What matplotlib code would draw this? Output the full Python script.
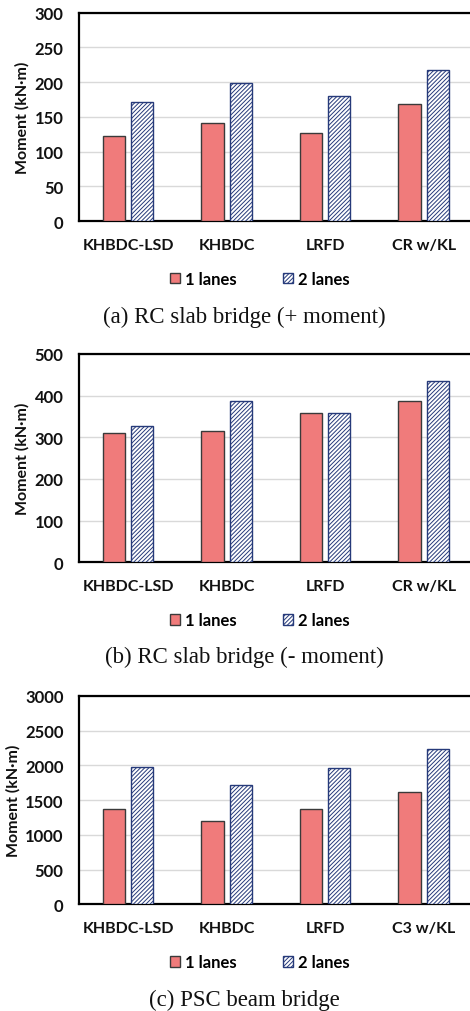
import numpy as np
import matplotlib
matplotlib.use('Agg')
import matplotlib.pyplot as plt

# moment values per design code, 1 lane vs 2 lanes loaded
codes_ab = ['KHBDC-LSD', 'KHBDC', 'LRFD', 'CR w/KL']
codes_c = ['KHBDC-LSD', 'KHBDC', 'LRFD', 'C3 w/KL']

slab_pos_1 = [123, 141, 127, 169]
slab_pos_2 = [171, 199, 180, 217]

slab_neg_1 = [309, 316, 357, 386]
slab_neg_2 = [326, 388, 357, 434]

psc_1 = [1370, 1198, 1370, 1615]
psc_2 = [1975, 1711, 1960, 2238]

series_names = ['1 lanes', '2 lanes']
captions = ['(a) RC slab bridge (+ moment)', '(b) RC slab bridge (- moment)', '(c) PSC beam bridge']
yticks = [np.arange(0, 301, 50), np.arange(0, 501, 100), np.arange(0, 3001, 500)]

plt.rcParams['font.family'] = ['Lato', 'DejaVu Sans']
plt.rcParams['hatch.linewidth'] = 0.7

red = '#F07B7B'
navy = '#263A7A'

fig = plt.figure(figsize = (4.7, 10.12), dpi = 100)

# (categories, 1-lane, 2-lane, axes bottom, ylabel x offset)
panels = [
    (codes_ab, slab_pos_1, slab_pos_2, 0.7806, -0.125),
    (codes_ab, slab_neg_1, slab_neg_2, 0.4434, -0.125),
    (codes_c, psc_1, psc_2, 0.1054, -0.148),
]

for k, (cats, v1, v2, bottom, lab_x) in enumerate(panels):

    ax = fig.add_axes([0.168, bottom, 0.838, 0.206])
    x = np.arange(len(cats))
    w = 0.225

    ax.bar(x - 0.143, v1, w, color = red, edgecolor = '#3a3a3a', linewidth = 1.0, label = series_names[0], zorder = 3)
    ax.bar(x + 0.143, v2, w, color = 'white', edgecolor = navy, hatch = '////////', linewidth = 1.0, label = series_names[1], zorder = 3)

    ax.set_xlim(-0.5, len(cats) - 0.5)
    ax.set_ylim(yticks[k][0], yticks[k][-1])
    ax.set_yticks(yticks[k])
    ax.set_xticks(x)
    ax.set_xticklabels(cats)

    ax.grid(axis = 'y', color = '#d9d9d9', linewidth = 1.0, zorder = 0)
    ax.set_axisbelow(True)

    for s in ['left', 'bottom', 'top']:
        ax.spines[s].set_linewidth(1.6)
        ax.spines[s].set_color('black')
    ax.spines['right'].set_visible(False)

    ax.tick_params(axis = 'x', length = 0, pad = 12, labelsize = 11.5)
    ax.tick_params(axis = 'y', length = 0, pad = 11, labelsize = 12)
    for lab in ax.get_xticklabels() + ax.get_yticklabels():
        lab.set_fontweight('bold')
        lab.set_color('#111111')

    ax.set_ylabel('Moment (kN·m)', fontsize = 11.5, fontweight = 'bold', color = '#111111')
    ax.yaxis.set_label_coords(lab_x, 0.5)

    ax.legend(loc = 'center', bbox_to_anchor = (0.46, -0.278), ncol = 2, frameon = False,
              handlelength = 0.6, handleheight = 0.6, handletextpad = 0.3, columnspacing = 2.8,
              prop = {'weight': 'bold', 'size': 12})

    cap_y = [1 - 317 / 1012, 1 - 657 / 1012, 1 - 1000 / 1012][k]
    fig.text(0.52, cap_y, captions[k], ha = 'center', va = 'center', fontsize = 16.5,
             family = 'Liberation Serif', color = '#111111')

fig.savefig('out.png', dpi = 100)
